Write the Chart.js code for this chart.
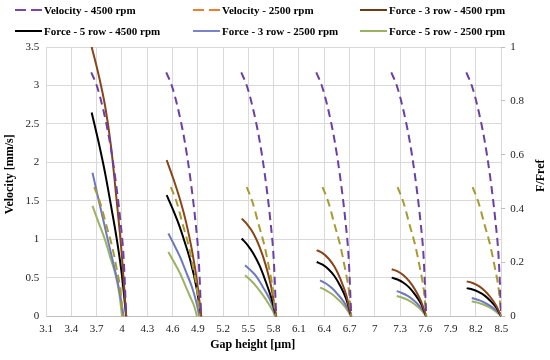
<!DOCTYPE html>
<html>
<head>
<meta charset="utf-8">
<script src="https://cdn.jsdelivr.net/npm/chart.js@4"></script>
<style>
html, body { margin: 0; padding: 0; background: #fff; }
#wrap { position: relative; width: 550px; height: 360px; }
#legend { position: absolute; left: 0; top: 0; width: 550px; height: 44px;
  font: bold 11px "Liberation Serif", serif; color: #000; }
.item { position: absolute; display: flex; align-items: center; white-space: nowrap; height: 14px; }
.swatch { width: 27px; height: 2px; margin-right: 2px; }
</style>
</head>
<body>
<div id="wrap">
  <canvas id="chart" width="550" height="360"></canvas>
  <div id="legend"></div>
</div>
<script>
// Gap height [um] per curve, null splits the six groups
var gapVel4500 = [3.635, 3.70, 3.77, 3.85, 3.92, 3.98, 4.02, 4.05, null,
  4.525, 4.59, 4.66, 4.74, 4.81, 4.87, 4.91, 4.94, null,
  5.415, 5.48, 5.55, 5.63, 5.70, 5.76, 5.80, 5.83, null,
  6.305, 6.37, 6.44, 6.52, 6.59, 6.65, 6.69, 6.72, null,
  7.195, 7.26, 7.33, 7.41, 7.48, 7.54, 7.58, 7.61, null,
  8.085, 8.15, 8.22, 8.30, 8.37, 8.43, 8.47, 8.50];
var vel4500 = [3.17, 3.0, 2.72, 2.3, 1.8, 1.25, 0.75, 0, null,
  3.17, 3.0, 2.72, 2.3, 1.8, 1.25, 0.75, 0, null,
  3.17, 3.0, 2.72, 2.3, 1.8, 1.25, 0.75, 0, null,
  3.17, 3.0, 2.72, 2.3, 1.8, 1.25, 0.75, 0, null,
  3.17, 3.0, 2.72, 2.3, 1.8, 1.25, 0.75, 0, null,
  3.17, 3.0, 2.72, 2.3, 1.8, 1.25, 0.75, 0];

var gapVel2500 = [3.67, 3.74, 3.81, 3.88, 3.94, 3.98, 4.01, null,
  4.58, 4.65, 4.72, 4.79, 4.85, 4.89, 4.92, null,
  5.48, 5.55, 5.62, 5.69, 5.75, 5.79, 5.82, null,
  6.38, 6.45, 6.52, 6.59, 6.65, 6.69, 6.72, null,
  7.27, 7.34, 7.41, 7.48, 7.54, 7.58, 7.61, null,
  8.16, 8.23, 8.30, 8.37, 8.43, 8.47, 8.50];
var vel2500 = [1.68, 1.48, 1.2, 0.92, 0.6, 0.35, 0, null,
  1.68, 1.48, 1.2, 0.92, 0.6, 0.35, 0, null,
  1.68, 1.48, 1.2, 0.92, 0.6, 0.35, 0, null,
  1.68, 1.48, 1.2, 0.92, 0.6, 0.35, 0, null,
  1.68, 1.48, 1.2, 0.92, 0.6, 0.35, 0, null,
  1.68, 1.48, 1.2, 0.92, 0.6, 0.35, 0];

var gapF3r4500 = [3.64, 3.72, 3.80, 3.87, 3.93, 4.00, 4.05, null,
  4.53, 4.61, 4.69, 4.76, 4.83, 4.89, 4.94, null,
  5.42, 5.49, 5.56, 5.63, 5.70, 5.77, 5.83, null,
  6.31, 6.38, 6.45, 6.52, 6.59, 6.66, 6.72, null,
  7.20, 7.27, 7.34, 7.41, 7.48, 7.55, 7.61, null,
  8.09, 8.16, 8.23, 8.30, 8.37, 8.44, 8.50];
var f3r4500 = [1.0, 0.90, 0.78, 0.63, 0.45, 0.22, 0, null,
  0.58, 0.51, 0.432, 0.35, 0.246, 0.13, 0, null,
  0.363, 0.34, 0.308, 0.26, 0.196, 0.11, 0, null,
  0.246, 0.235, 0.215, 0.185, 0.14, 0.08, 0, null,
  0.175, 0.167, 0.153, 0.13, 0.098, 0.055, 0, null,
  0.13, 0.124, 0.113, 0.096, 0.072, 0.04, 0];

var gapF5r4500 = [3.64, 3.72, 3.80, 3.87, 3.94, 4.00, 4.05, null,
  4.53, 4.60, 4.67, 4.74, 4.81, 4.89, 4.94, null,
  5.42, 5.49, 5.56, 5.63, 5.70, 5.77, 5.83, null,
  6.31, 6.38, 6.45, 6.52, 6.59, 6.66, 6.72, null,
  7.20, 7.27, 7.34, 7.41, 7.48, 7.55, 7.61, null,
  8.09, 8.16, 8.23, 8.30, 8.37, 8.44, 8.50];
var f5r4500 = [0.757, 0.65, 0.531, 0.41, 0.283, 0.15, 0, null,
  0.45, 0.40, 0.345, 0.28, 0.208, 0.097, 0, null,
  0.289, 0.265, 0.233, 0.19, 0.134, 0.07, 0, null,
  0.202, 0.192, 0.175, 0.15, 0.113, 0.065, 0, null,
  0.144, 0.137, 0.125, 0.107, 0.08, 0.046, 0, null,
  0.105, 0.10, 0.091, 0.078, 0.058, 0.033, 0];

var gapF3r2500 = [3.65, 3.71, 3.76, 3.82, 3.88, 3.96, 4.02, null,
  4.55, 4.62, 4.69, 4.76, 4.83, 4.88, 4.92, null,
  5.46, 5.53, 5.60, 5.67, 5.74, 5.79, 5.82, null,
  6.35, 6.42, 6.49, 6.56, 6.63, 6.68, 6.72, null,
  7.26, 7.32, 7.39, 7.46, 7.52, 7.57, 7.61, null,
  8.15, 8.21, 8.28, 8.35, 8.41, 8.46, 8.50];
var f3r2500 = [0.533, 0.45, 0.382, 0.30, 0.22, 0.109, 0, null,
  0.308, 0.265, 0.22, 0.165, 0.109, 0.055, 0, null,
  0.19, 0.17, 0.146, 0.11, 0.072, 0.035, 0, null,
  0.134, 0.122, 0.105, 0.082, 0.055, 0.028, 0, null,
  0.094, 0.087, 0.076, 0.06, 0.042, 0.022, 0, null,
  0.068, 0.063, 0.055, 0.043, 0.03, 0.016, 0];

var gapF5r2500 = [3.65, 3.72, 3.80, 3.86, 3.92, 3.97, 4.00, null,
  4.55, 4.62, 4.69, 4.75, 4.81, 4.86, 4.89, null,
  5.46, 5.53, 5.60, 5.67, 5.74, 5.79, 5.82, null,
  6.35, 6.42, 6.49, 6.56, 6.63, 6.68, 6.72, null,
  7.26, 7.32, 7.39, 7.46, 7.52, 7.57, 7.61, null,
  8.15, 8.21, 8.28, 8.35, 8.41, 8.46, 8.50];
var f5r2500 = [0.41, 0.35, 0.283, 0.22, 0.159, 0.08, 0, null,
  0.239, 0.20, 0.159, 0.115, 0.072, 0.035, 0, null,
  0.153, 0.133, 0.109, 0.08, 0.047, 0.02, 0, null,
  0.107, 0.097, 0.083, 0.064, 0.042, 0.02, 0, null,
  0.076, 0.07, 0.061, 0.048, 0.033, 0.017, 0, null,
  0.056, 0.052, 0.045, 0.035, 0.024, 0.012, 0];

// Axis ranges
var gapMin = 3.1, gapMax = 8.5, gapStep = 0.3;
var velMax = 3.5, velStep = 0.5;
var forceMax = 1, forceStep = 0.2;

function toPoints(xs, ys) {
  var last = xs[0];
  return xs.map(function(x, i) {
    if (x === null) return { x: last, y: null };
    last = x;
    return { x: x, y: ys[i] };
  });
}

var series = [
  { label: 'Velocity - 4500 rpm', xs: gapVel4500, ys: vel4500, color: '#6B3FA6', legendColor: '#7A45B0', dash: [8, 5], axis: 'y' },
  { label: 'Velocity - 2500 rpm', xs: gapVel2500, ys: vel2500, color: '#A89A30', legendColor: '#EC7E30', dash: [8, 5], axis: 'y' },
  { label: 'Force - 3 row - 4500 rpm', xs: gapF3r4500, ys: f3r4500, color: '#8A4418', legendColor: '#6E3A14', dash: [], axis: 'y1' },
  { label: 'Force - 5 row - 4500 rpm', xs: gapF5r4500, ys: f5r4500, color: '#000000', legendColor: '#000000', dash: [], axis: 'y1' },
  { label: 'Force - 3 row - 2500 rpm', xs: gapF3r2500, ys: f3r2500, color: '#6E78C2', legendColor: '#7A84C8', dash: [], axis: 'y1' },
  { label: 'Force - 5 row - 2500 rpm', xs: gapF5r2500, ys: f5r2500, color: '#9AB362', legendColor: '#9AB362', dash: [], axis: 'y1' }
];

// HTML legend laid out in three columns like the original
var legendCols = [15, 193, 360];
var legendRows = [3, 24];
var legendEl = document.getElementById('legend');
series.forEach(function(s, i) {
  var item = document.createElement('div');
  item.className = 'item';
  item.style.left = legendCols[i % 3] + 'px';
  item.style.top = legendRows[Math.floor(i / 3)] + 'px';
  var sw = document.createElement('span');
  sw.className = 'swatch';
  if (s.dash.length) {
    sw.style.background = 'linear-gradient(to right, ' + s.legendColor + ' 0 11px, transparent 11px 16px, ' + s.legendColor + ' 16px 27px)';
  } else {
    sw.style.background = s.legendColor;
  }
  item.appendChild(sw);
  item.appendChild(document.createTextNode(s.label));
  legendEl.appendChild(item);
});

function fmt(v) { return String(Number(v.toFixed(2))); }

var rightTitle = {
  id: 'rightTitle',
  afterDraw: function(chart) {
    var ctx = chart.ctx, area = chart.chartArea;
    ctx.save();
    ctx.font = 'bold 12px "Liberation Serif", serif';
    ctx.fillStyle = '#000';
    ctx.textAlign = 'center';
    ctx.textBaseline = 'middle';
    ctx.translate(541, (area.top + area.bottom) / 2 - 6);
    ctx.rotate(-Math.PI / 2);
    ctx.fillText('F/Fref', 0, 0);
    ctx.restore();
  }
};

var ctx = document.getElementById('chart').getContext('2d');
var chart = new Chart(ctx, {
  type: 'scatter',
  data: {
    datasets: series.map(function(s) {
      return {
        label: s.label,
        data: toPoints(s.xs, s.ys),
        yAxisID: s.axis,
        showLine: true,
        borderColor: s.color,
        backgroundColor: s.color,
        borderWidth: 2,
        borderDash: s.dash,
        pointRadius: 0,
        spanGaps: false,
        cubicInterpolationMode: 'monotone'
      };
    })
  },
  options: {
    responsive: false,
    animation: false,
    devicePixelRatio: 1,
    layout: { padding: { top: 47, left: 0, right: 21, bottom: 8 } },
    plugins: {
      legend: { display: false },
      tooltip: { enabled: false }
    },
    scales: {
      x: {
        type: 'linear',
        min: gapMin,
        max: gapMax,
        grid: { color: '#D9D9D9', drawTicks: false },
        border: { color: '#BFBFBF' },
        ticks: {
          stepSize: gapStep,
          padding: 6,
          color: '#222',
          font: { family: '"Liberation Serif", serif', size: 11 },
          callback: fmt
        },
        title: {
          display: true,
          text: 'Gap height [\u00b5m]' + '              ',
          color: '#000',
          font: { family: '"Liberation Serif", serif', size: 12, weight: 'bold' },
          padding: { top: -4, bottom: 0 }
        }
      },
      y: {
        position: 'left',
        min: 0,
        max: velMax,
        grid: { color: '#D9D9D9', drawTicks: false },
        border: { color: '#D9D9D9' },
        ticks: {
          stepSize: velStep,
          padding: 7,
          color: '#222',
          font: { family: '"Liberation Serif", serif', size: 11 },
          callback: fmt
        },
        title: {
          display: true,
          text: '     ' + 'Velocity [mm/s]',
          color: '#000',
          font: { family: '"Liberation Serif", serif', size: 12, weight: 'bold' },
          padding: { top: 3, bottom: 1 }
        }
      },
      y1: {
        position: 'right',
        min: 0,
        max: forceMax,
        grid: { drawOnChartArea: false, color: '#BFBFBF', tickLength: 4 },
        border: { display: false },
        ticks: {
          stepSize: forceStep,
          padding: 5,
          color: '#222',
          font: { family: '"Liberation Serif", serif', size: 11 },
          callback: fmt
        }
      }
    }
  },
  plugins: [rightTitle]
});
</script>
</body>
</html>
